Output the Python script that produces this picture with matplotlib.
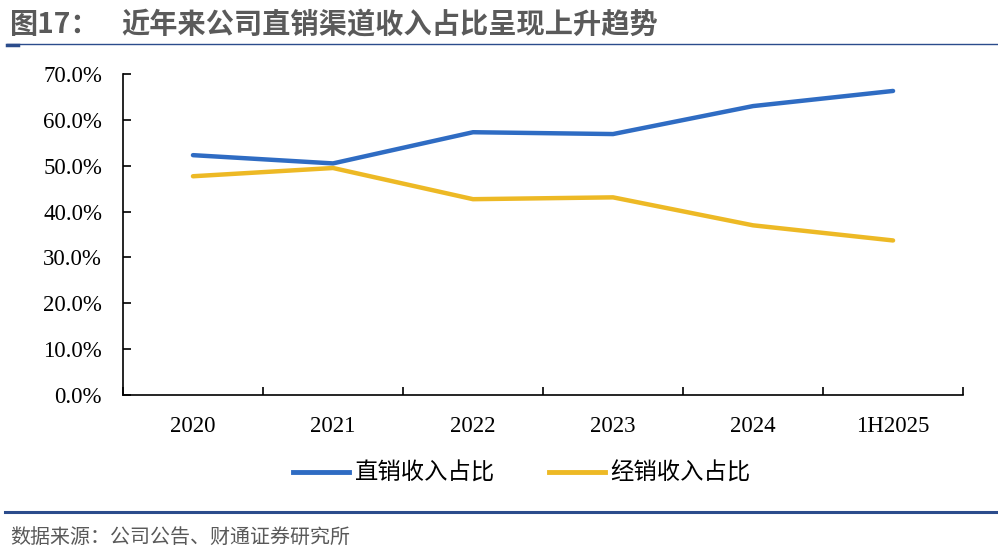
import numpy as np
import matplotlib.pyplot as plt
from matplotlib.lines import Line2D

categories = ['2020', '2021', '2022', '2023', '2024', '1H2025']
direct_share = [52.3, 50.5, 57.3, 56.9, 63.0, 66.3]
dealer_share = [47.7, 49.5, 42.7, 43.1, 37.0, 33.7]
yticks = [0, 10, 20, 30, 40, 50, 60, 70]

plt.rcParams['font.family'] = ['Liberation Serif', 'Noto Sans CJK SC']

fig = plt.figure(figsize=(9.98, 5.6), dpi=100)
ax = fig.add_axes([0.1232, 0.2946, 0.9650 - 0.1232, 0.8679 - 0.2946])

x = np.arange(len(categories))
ax.plot(x, direct_share, color='#2F6CC3', linewidth=3.2, solid_capstyle='round', label='直销收入占比')
ax.plot(x, dealer_share, color='#EDB925', linewidth=3.2, solid_capstyle='round', label='经销收入占比')

ax.set_xlim(-0.5, len(categories) - 0.5)
ax.set_ylim(0, 70)
ax.set_yticks(yticks)
ax.set_yticklabels([f'{v:.1f}%' for v in yticks])
ax.set_xticks(np.arange(-0.5, len(categories)), minor=False)
ax.set_xticklabels([''] * (len(categories) + 1))
ax.set_xticks(x, minor=True)
ax.set_xticklabels(categories, minor=True)
ax.tick_params(axis='x', which='major', direction='in', length=6, width=1.2)
ax.tick_params(axis='x', which='minor', length=0, pad=15, labelsize=16.5)
ax.tick_params(axis='y', direction='in', length=6, width=1.2, pad=15, labelsize=16.5)
for s in ['top', 'right']:
    ax.spines[s].set_visible(False)
for s in ['left', 'bottom']:
    ax.spines[s].set_linewidth(1.2)

handles = [Line2D([], [], color='#2F6CC3', linewidth=3.5),
           Line2D([], [], color='#EDB925', linewidth=3.5)]
fig.legend(handles, ['直销收入占比', '经销收入占比'], loc='center', bbox_to_anchor=(0.523, 0.155),
           ncol=2, frameon=False, handlelength=2.4, handletextpad=0.25, columnspacing=2.3,
           prop={'family': 'Noto Sans CJK SC', 'size': 16.8})

# title and source
fig.text(0.010, 0.955, '图17：', fontsize=20.3, color='#5A5A5A', fontweight='bold',
         family=['Noto Sans CJK SC', 'DejaVu Sans'], va='center')
fig.text(0.122, 0.955, '近年来公司直销渠道收入占比呈现上升趋势', fontsize=20.3, color='#5A5A5A',
         fontweight='bold', family=['Noto Sans CJK SC', 'DejaVu Sans'], va='center')
fig.add_artist(Line2D([0.007, 1.0], [0.922, 0.922], color='#2B4C8C', linewidth=1.0))
fig.add_artist(Line2D([0.007, 0.018], [0.920, 0.920], color='#2B4C8C', linewidth=2.5))
fig.add_artist(Line2D([0.005, 1.0], [0.086, 0.086], color='#2B4C8C', linewidth=2.2))
fig.text(0.010, 0.041, '数据来源：公司公告、财通证券研究所', fontsize=14.4, color='#595959',
         family=['Noto Sans CJK SC', 'DejaVu Sans'], va='center')

fig.savefig('out.png', dpi=100)
